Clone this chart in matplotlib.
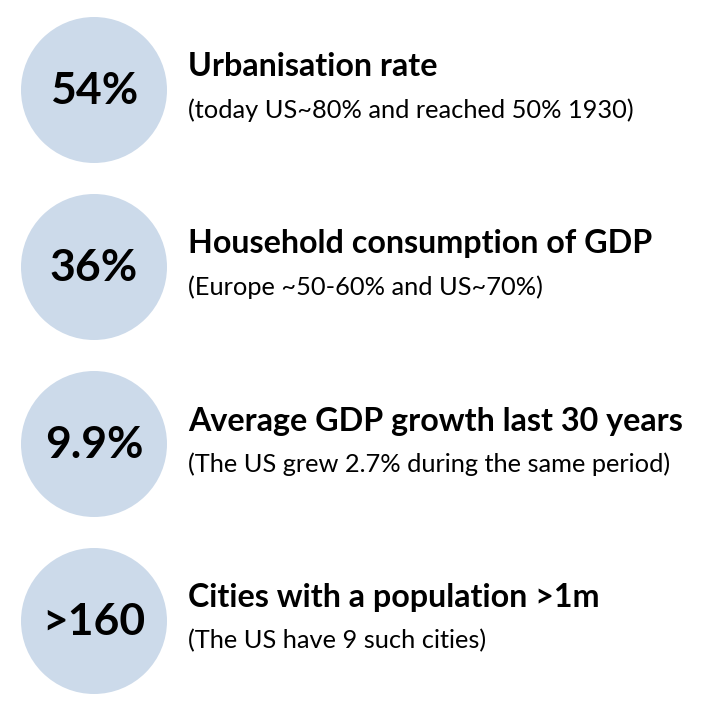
import matplotlib.pyplot as plt
from matplotlib.patches import Circle

values = ["54%", "36%", "9.9%", ">160"]
titles = ["Urbanisation rate",
          "Household consumption of GDP",
          "Average GDP growth last 30 years",
          "Cities with a population >1m"]
notes = ["(today US~80% and reached 50% 1930)",
         "(Europe ~50-60% and US~70%)",
         "(The US grew 2.7% during the same period)",
         "(The US have 9 such cities)"]

W, H = 708, 713
fig = plt.figure(figsize=(W / 100, H / 100), dpi=100)
ax = fig.add_axes([0, 0, 1, 1])
ax.set_xlim(0, W)
ax.set_ylim(H, 0)
ax.set_aspect("equal")
ax.axis("off")

font = "Lato"
for i, (v, t, n) in enumerate(zip(values, titles, notes)):
    cy = 90 + i * 177
    ax.add_patch(Circle((94, cy), 73, color="#ccdaea", lw=0))
    ax.text(94, cy + 1, v, ha="center", va="center", fontsize=32,
            fontweight="bold", family=font, color="black")
    ax.text(188, cy - 23, t, ha="left", va="center", fontsize=23.2,
            fontweight="bold", family=font, color="black")
    ax.text(188, cy + 20, n, ha="left", va="center", fontsize=18.3,
            family=font, color="black")

fig.savefig("out.png", dpi=100)
